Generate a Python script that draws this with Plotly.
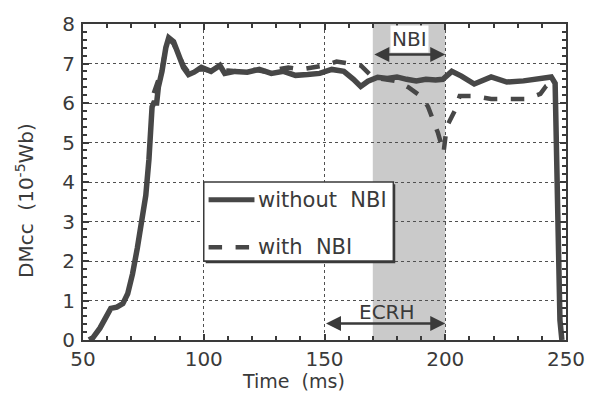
import plotly.graph_objects as go

# ---- data ----
t_without = [52.5, 54, 57, 60, 61.5, 64, 66.5, 68.5, 70.5, 72.5, 74.5, 76, 77.3, 78.6,
             79.3, 80.5, 81.2, 82.7, 84.3, 85.5, 87.5, 89.6, 91.6, 93.7, 96, 99, 103,
             106.7, 108.7, 113, 118, 123, 128, 133, 138, 143, 148, 153, 158, 162, 165,
             168, 172, 176, 180, 184, 188, 192, 196, 199, 202.7, 206.7, 212, 219,
             225.5, 232.4, 239.4, 243.9, 245.5, 246.5, 247.5, 248.3]
y_without = [0.0, 0.05, 0.3, 0.67, 0.8, 0.83, 0.92, 1.17, 1.67, 2.33, 3.07, 3.66, 4.57, 5.9,
             6.0, 6.0, 6.4, 6.8, 7.4, 7.65, 7.55, 7.2, 6.9, 6.72, 6.78, 6.9, 6.8,
             6.95, 6.75, 6.8, 6.78, 6.85, 6.75, 6.8, 6.7, 6.72, 6.75, 6.85, 6.8, 6.6, 6.42,
             6.55, 6.65, 6.62, 6.66, 6.6, 6.56, 6.6, 6.58, 6.6, 6.8, 6.68, 6.48, 6.66,
             6.53, 6.56, 6.6, 6.66, 6.5, 3.0, 0.5, 0.0]

t_with = [79.3, 80.5, 82.7, 84.3, 85.5, 87.5, 89.6, 91.6, 94, 97, 100, 105, 110, 115,
          120, 125, 130, 135, 140, 145, 150, 155, 160, 165, 170, 175, 180, 184.7,
          190.4, 192.9, 195, 197, 198.6, 199.3, 200.6, 203.9, 206, 212, 219, 225.5,
          233.7, 239.4, 241.8, 244, 245.5]
y_with = [6.25, 6.45, 6.85, 7.4, 7.62, 7.5, 7.2, 6.95, 6.75, 6.85, 6.85, 6.8, 6.82, 6.8,
          6.85, 6.8, 6.85, 6.9, 6.85, 6.9, 6.95, 7.05, 7.0, 6.95, 6.65, 6.6, 6.55, 6.4,
          6.15, 5.9, 5.56, 5.24, 4.9, 4.75, 5.4, 5.8, 6.18, 6.18, 6.1, 6.1,
          6.1, 6.23, 6.43, 6.5, 6.5]

nbi_window = [170, 200]
ecrh_window = [150, 200]

x_ticks = [50, 100, 150, 200, 250]
y_ticks = [0, 1, 2, 3, 4, 5, 6, 7, 8]

FONT = "DejaVu Sans"
INK = "#3a3a3a"
LINE = "#474747"

fig = go.Figure()

# shaded NBI window
fig.add_shape(type="rect", xref="x", yref="y", x0=nbi_window[0], x1=nbi_window[1],
              y0=0, y1=8, fillcolor="#cacaca", line_width=0, layer="below")

fig.add_trace(go.Scatter(x=t_with, y=y_with, mode="lines", name="with NBI",
                         line=dict(color=LINE, width=4.5, dash="dash"), showlegend=False))
fig.add_trace(go.Scatter(x=t_without, y=y_without, mode="lines", name="without NBI",
                         line=dict(color=LINE, width=5.5), showlegend=False))

# legend box (drawn by hand to match original)
lx0, lx1, ly0, ly1 = 100, 178.5, 2.0, 4.0
fig.add_shape(type="rect", xref="x", yref="y", x0=lx0 + 0.8, x1=lx1 + 0.8, y0=ly0 - 0.06,
              y1=ly1 - 0.06, fillcolor=INK, line_width=0)
fig.add_shape(type="rect", xref="x", yref="y", x0=lx0, x1=lx1, y0=ly0, y1=ly1,
              fillcolor="white", line=dict(color=INK, width=1.5))
fig.add_shape(type="line", xref="x", yref="y", x0=102, x1=121, y0=3.55, y1=3.55,
              line=dict(color=LINE, width=5))
fig.add_shape(type="line", xref="x", yref="y", x0=102, x1=121, y0=2.35, y1=2.35,
              line=dict(color=LINE, width=4.5, dash="dash"))
fig.add_annotation(x=121.5, y=3.55, xref="x", yref="y", text="without  NBI", showarrow=False,
                   xanchor="left", font=dict(family=FONT, size=21, color=INK))
fig.add_annotation(x=121.5, y=2.35, xref="x", yref="y", text="with  NBI", showarrow=False,
                   xanchor="left", font=dict(family=FONT, size=21, color=INK))

# arrows
for (a, b), yy in ((nbi_window, 7.23), (ecrh_window, 0.42)):
    fig.add_annotation(x=b, y=yy, ax=a, ay=yy, xref="x", yref="y", axref="x", ayref="y",
                       text="", showarrow=True, arrowhead=2, arrowside="end+start",
                       arrowsize=1.2, arrowwidth=2.5, arrowcolor=INK)
fig.add_annotation(x=185, y=7.62, xref="x", yref="y", text="NBI", showarrow=False,
                   bgcolor="white", borderpad=1,
                   font=dict(family=FONT, size=20, color=INK))
fig.add_annotation(x=176, y=0.72, xref="x", yref="y", text="ECRH", showarrow=False,
                   font=dict(family=FONT, size=20, color=INK))

# axis titles
fig.add_annotation(x=0.435, y=-0.13, xref="paper", yref="paper", text="Time  (ms)",
                   showarrow=False, yanchor="middle", font=dict(family=FONT, size=19, color=INK))
fig.add_annotation(x=-0.12, y=0.44, xref="paper", yref="paper",
                   text="DMcc  (10<sup>-5</sup>Wb)", textangle=-90, showarrow=False,
                   xanchor="center", yanchor="middle",
                   font=dict(family=FONT, size=20, color=INK))

axis_common = dict(showline=True, linecolor=INK, linewidth=2, mirror="allticks",
                   ticks="inside", ticklen=6, tickwidth=1.5, tickcolor=INK,
                   showgrid=True, gridcolor="#505050", gridwidth=1.4, griddash="dot",
                   zeroline=False, tickfont=dict(family=FONT, size=20, color=INK))

fig.update_xaxes(range=[50, 250], tickvals=x_ticks, ticktext=[str(v) for v in x_ticks],
                 minor=dict(dtick=10, ticks="inside", ticklen=4, tickcolor=INK, showgrid=False,
                            tick0=50),
                 ticklabelstandoff=0, **axis_common)
fig.update_yaxes(range=[0, 8], tickvals=y_ticks, ticktext=[str(v) for v in y_ticks],
                 minor=dict(dtick=0.2, ticks="inside", ticklen=4, tickcolor=INK, showgrid=False),
                 ticklabelstandoff=2, **axis_common)

fig.update_layout(width=597, height=393, margin=dict(l=83, r=24, t=19, b=53),
                  paper_bgcolor="white", plot_bgcolor="white", showlegend=False,
                  font=dict(family=FONT, color=INK))

fig.write_html("out.html")
